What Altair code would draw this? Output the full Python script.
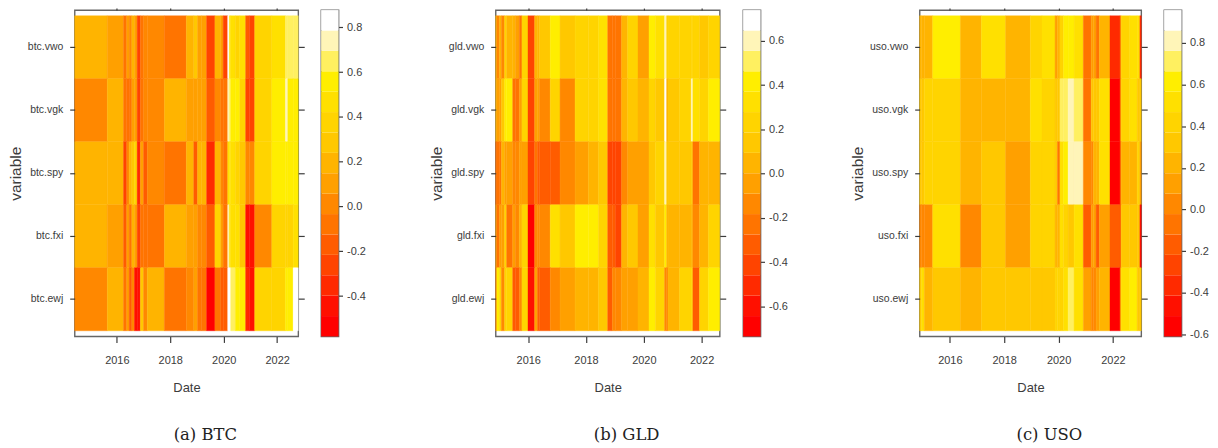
import altair as alt
import pandas as pd

PALETTE = ["#FF0000", "#FF1000", "#FF2A00", "#FF4400", "#FF5C00", "#FF7400", "#FF8800", "#FFA000",
           "#FFB400", "#FFC800", "#FFD400", "#FFE000", "#FFEE00", "#FFF060", "#FFF5B8", "#FFFFFF"]
LEVELS = list(range(16))
ROWS = ["vwo", "vgk", "spy", "fxi", "ewj"]
YEARS = [2016, 2018, 2020, 2022]

BTC_BREAKS = [2014.42, 2015.64, 2016.25, 2016.37, 2016.46, 2016.56, 2016.66, 2016.76, 2016.88, 2017.00, 2017.14,
              2017.78, 2018.60, 2018.88, 2019.02, 2019.17, 2019.36, 2019.67, 2019.89, 2019.98, 2020.15, 2020.21,
              2020.26, 2020.44, 2020.60, 2020.82, 2020.96, 2021.16, 2021.80, 2022.31, 2022.40, 2022.60, 2022.79]
BTC_VWO = [8,7,5,7,6,8,7,3,5,6,6,5,8,9,7,7,3,8,7,3,15,11,11,10,11,4,3,10,11,13,13,13]
BTC_VGK = [6,8,5,5,5,7,7,3,5,6,6,8,7,7,7,7,4,6,5,5,14,13,12,12,10,3,3,10,12,14,12,12]
BTC_SPY = [8,8,3,6,8,9,10,2,7,4,6,5,8,4,8,8,2,8,6,5,11,11,11,10,9,6,6,10,12,12,12,12]
BTC_FXI = [8,7,4,7,5,8,7,3,5,5,5,8,7,7,6,6,4,10,7,5,14,11,11,11,9,1,1,6,10,10,10,11]
BTC_EWJ = [6,8,5,7,4,6,1,1,9,6,8,5,6,7,5,5,0,5,4,4,15,15,13,12,12,2,1,10,10,12,12,15]

GLD_BREAKS = [2014.87, 2014.91, 2015.00, 2015.07, 2015.18, 2015.25, 2015.46, 2015.55, 2015.69, 2015.78, 2015.99,
              2016.22, 2016.32, 2016.39, 2016.76, 2017.10, 2017.62, 2018.08, 2018.43, 2018.75, 2018.91, 2019.02,
              2019.23, 2019.44, 2019.80, 2020.18, 2020.40, 2020.72, 2020.79, 2020.84, 2021.24, 2021.64, 2021.70,
              2021.93, 2022.24, 2022.63]
GLD_VWO = [8,6,8,6,10,8,8,7,5,10,3,8,8,9,12,9,10,10,11,5,5,5,8,10,7,12,11,14,10,10,10,10,10,9,10]
GLD_VGK = [8,7,7,9,12,12,5,5,7,10,3,7,7,6,10,6,10,10,11,5,5,5,8,9,8,10,9,15,8,9,10,14,11,10,12]
GLD_SPY = [5,5,5,8,7,7,6,6,7,7,3,5,4,4,4,6,7,8,9,3,3,3,6,7,7,9,10,14,9,9,9,9,5,8,8]
GLD_FXI = [7,5,7,7,10,5,7,6,8,10,0,6,6,6,11,9,12,12,10,4,4,3,8,9,7,11,9,12,8,8,8,8,6,8,10]
GLD_EWJ = [6,12,10,6,10,10,4,4,6,10,1,7,4,4,6,7,8,8,9,4,6,6,7,7,8,12,10,6,6,8,10,10,4,10,12]

USO_BREAKS = [2014.89, 2014.96, 2015.06, 2015.37, 2016.39, 2017.16, 2018.05, 2018.96, 2019.39, 2019.87, 2019.96,
              2020.05, 2020.18, 2020.35, 2020.57, 2020.91, 2021.20, 2021.28, 2021.38, 2021.50, 2021.89, 2022.26,
              2022.30, 2022.62, 2022.89, 2022.99, 2023.04]
USO_VWO = [8,8,8,12,8,11,8,10,11,7,8,10,12,12,11,5,7,7,5,8,2,5,10,11,11,2]
USO_VGK = [9,9,10,10,8,8,8,11,10,9,9,13,13,14,13,5,9,9,9,11,0,5,10,11,9,9]
USO_SPY = [9,9,10,10,8,9,7,10,10,9,5,11,12,14,14,6,6,8,8,11,0,4,8,8,10,7]
USO_FXI = [6,6,6,11,6,9,7,10,10,8,8,11,10,9,11,4,7,7,4,7,4,4,9,9,9,1]
USO_EWJ = [9,11,8,9,8,9,9,9,9,10,10,10,11,13,11,7,6,6,7,8,0,6,11,12,9,9]

BTC_TICKS = [-0.4, -0.2, 0.0, 0.2, 0.4, 0.6, 0.8]
GLD_TICKS = [-0.6, -0.4, -0.2, 0.0, 0.2, 0.4, 0.6]
USO_TICKS = [-0.6, -0.4, -0.2, 0.0, 0.2, 0.4, 0.6, 0.8]

INK = "#3c3c3c"
FRAME = "#666666"
SANS = "Liberation Sans"
LEVEL_SCALE = alt.Scale(domain=LEVELS, range=PALETTE)


def heat_panel(prefix, breaks, series, width, caption):
    names = [f"{prefix}.{r}" for r in ROWS]
    records = []
    for name, levels in zip(names, series):
        for start, end, level in zip(breaks[:-1], breaks[1:], levels):
            records.append({"start": start, "end": end, "var": name, "level": level})
    data = pd.DataFrame(records)
    color = alt.Color("level:O", legend=None, scale=LEVEL_SCALE)
    xs = alt.Scale(domain=[breaks[0], breaks[-1]], nice=False, zero=False)
    ys = alt.Scale(domain=names, paddingInner=0, paddingOuter=0.09)
    base = alt.Chart(data).mark_rect(strokeWidth=0.4).encode(
        x=alt.X("start:Q", scale=xs, title="Date",
                axis=alt.Axis(values=YEARS, format="d", grid=False, domain=False, tickSize=6, tickWidth=1.2,
                              tickColor=INK, labelFont=SANS, labelFontSize=11, labelColor=INK, labelPadding=12,
                              titleFont=SANS, titleFontSize=13, titleFontWeight="normal", titleColor=INK,
                              titlePadding=16.5)),
        x2="end:Q",
        y=alt.Y("var:N", scale=ys, sort=names, title="variable",
                axis=alt.Axis(grid=False, domain=False, tickSize=5, tickWidth=1.2, tickColor=INK, labelFont=SANS,
                              labelFontSize=10.5, labelColor=INK, labelPadding=7, titleFont=SANS,
                              titleFontSize=15.5, titleFontWeight="normal", titleColor=INK, titlePadding=4)),
        color=color,
        stroke=color,
    )
    mirror = alt.Chart(data).mark_rect(opacity=0).encode(
        x=alt.X("start:Q", scale=xs, title=None,
                axis=alt.Axis(orient="top", values=YEARS, labels=False, grid=False, domain=False, tickSize=2,
                              tickWidth=1.2, tickColor=INK)),
        x2="end:Q",
        y=alt.Y("var:N", scale=ys, sort=names, title=None,
                axis=alt.Axis(orient="right", labels=False, grid=False, domain=False, tickSize=6, tickWidth=1.2,
                              tickColor=INK)),
    )
    return alt.layer(base, mirror).resolve_scale(x="independent", y="independent").properties(
        width=width, height=328,
        title=alt.TitleParams(caption, orient="bottom", anchor="middle", dx=19, offset=33, font="DejaVu Serif",
                              fontSize=16.5, fontWeight="normal", color="#222222"),
    )


def color_bar(lo, hi, ticks):
    step = (hi - lo) / 16
    data = pd.DataFrame({"low": [lo + i * step for i in LEVELS], "high": [lo + (i + 1) * step for i in LEVELS],
                         "level": LEVELS})
    return alt.Chart(data).mark_rect().encode(
        y=alt.Y("low:Q", scale=alt.Scale(domain=[lo, hi], nice=False, zero=False), title=None,
                axis=alt.Axis(orient="right", values=ticks, grid=False, domain=False, tickSize=4, tickWidth=1.2,
                              tickColor=INK, labelFont=SANS, labelFontSize=11, labelColor=INK, labelPadding=4,
                              labelExpr="(datum.value < -0.001 ? '-' : '') + format(abs(datum.value), '.1f')")),
        y2="high:Q",
        color=alt.Color("level:O", legend=None, scale=LEVEL_SCALE),
    ).properties(width=17.5, height=328)


def spacer(width):
    return alt.Chart(pd.DataFrame({"a": [0]})).mark_point(opacity=0).encode(
        x=alt.value(50), y=alt.value(100)
    ).properties(width=width, height=328, view=alt.ViewBackground(stroke="transparent"))


chart = alt.hconcat(
    heat_panel("btc", BTC_BREAKS, [BTC_VWO, BTC_VGK, BTC_SPY, BTC_FXI, BTC_EWJ], 224.7, "(a) BTC"),
    color_bar(-0.58, 0.877, BTC_TICKS),
    spacer(111.2),
    heat_panel("gld", GLD_BREAKS, [GLD_VWO, GLD_VGK, GLD_SPY, GLD_FXI, GLD_EWJ], 225.2, "(b) GLD"),
    color_bar(-0.735, 0.739, GLD_TICKS),
    spacer(113.7),
    heat_panel("uso", USO_BREAKS, [USO_VWO, USO_VGK, USO_SPY, USO_FXI, USO_EWJ], 222.7, "(c) USO"),
    color_bar(-0.61, 0.9575, USO_TICKS),
    spacing=22.7,
    bounds="flush",
).configure_view(stroke=FRAME, strokeWidth=1.4).properties(padding={"left": -1, "top": -3, "right": 0, "bottom": 0})

chart.save("out.html", embed_options={"renderer": "svg", "actions": False})
